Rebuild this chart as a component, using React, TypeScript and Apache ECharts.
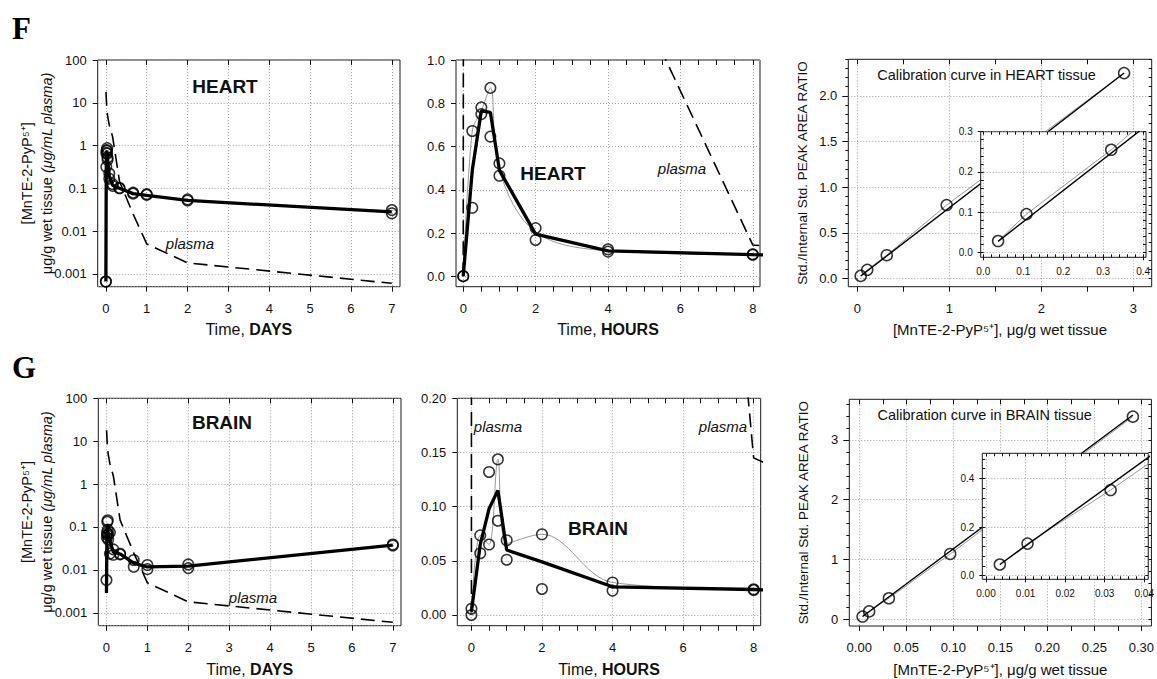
import React, { useEffect, useRef } from 'react';
import * as echarts from 'echarts';

const FONT = '"Liberation Sans", Arial, Helvetica, sans-serif';
const SERIF = '"Liberation Serif", "Times New Roman", serif';
const TXT = '#111';

// ---------------- DATA ----------------
// tissue sampling times (hours)
const earlyHours = [0, 0.25, 0.5, 0.75, 1, 2, 4, 8];
const lateHours = [16, 24, 48, 168];

// HEART (µg/g wet tissue)
const heartEarlyA = [0.00066, 0.672, 0.781, 0.871, 0.522, 0.223, 0.125, 0.102];
const heartEarlyB = [0.00066, 0.317, 0.75, 0.646, 0.465, 0.168, 0.114, 0.1];
const heartEarlyMean = [0.00066, 0.49, 0.765, 0.758, 0.49, 0.195, 0.118, 0.1];
const heartEarlyThin = [0.00066, 0.672, 0.765, 0.871, 0.49, 0.205, 0.118, 0.1];
const heartLateA = [0.079, 0.073, 0.055, 0.031];
const heartLateB = [0.075, 0.07, 0.052, 0.026];
const heartLateMean = [0.075, 0.068, 0.052, 0.028];

// BRAIN (µg/g wet tissue)
const brainEarlyA = [0.0058, 0.0735, 0.132, 0.1437, 0.069, 0.0745, 0.03, 0.0237];
const brainEarlyB = [0, 0.057, 0.065, 0.087, 0.051, 0.024, 0.0225, 0.023];
const brainEarlyMean = [0.0029, 0.065, 0.098, 0.115, 0.06, 0.049, 0.026, 0.0235];
const brainEarlyThin = [0, 0.0735, 0.065, 0.1437, 0.066, 0.0745, 0.03, 0.0237];
const brainLateA = [0.017, 0.013, 0.0134, 0.039];
const brainLateB = [0.0118, 0.0104, 0.011, 0.037];
const brainLateMean = [0.0144, 0.0117, 0.0122, 0.038];

// PLASMA (µg/mL)
const plasmaHours = [0, 0.05, 0.5, 1, 2, 4, 8, 16, 24, 48, 168];
const plasmaConc = [0, 18, 8, 5, 3, 1.57, 0.145, 0.025, 0.005, 0.0018, 0.0006];

// calibration curves
const heartCalConc = [0.037, 0.108, 0.32, 0.971, 2.9];
const heartCalRatio = [0.028, 0.095, 0.255, 0.804, 2.249];
const heartFitConc = [0.037, 2.9];
const heartFitRatio = [0.027, 2.25];
const brainCalConc = [0.0035, 0.0105, 0.0315, 0.0967, 0.291];
const brainCalRatio = [0.046, 0.132, 0.352, 1.093, 3.39];
const brainFitConc = [0.0035, 0.291];
const brainFitRatio = [0.046, 3.418];

// tick labels
const logTickLabels = ['0.001', '0.01', '0.1', '1', '10', '100'];
const daysTicks = [0, 1, 2, 3, 4, 5, 6, 7];
const hoursTicks = [0, 2, 4, 6, 8];
const heartHoursY = [0, 0.2, 0.4, 0.6, 0.8, 1.0];
const brainHoursY = [0, 0.05, 0.1, 0.15, 0.2];
const heartCalXT = [0, 1, 2, 3];
const heartCalYT = [0, 0.5, 1, 1.5, 2];
const heartInsetXT = [0, 0.1, 0.2, 0.3, 0.4];
const heartInsetYT = [0, 0.1, 0.2, 0.3];
const brainCalXT = [0, 0.05, 0.1, 0.15, 0.2, 0.25, 0.3];
const brainCalYT = [0, 1, 2, 3];
const brainInsetXT = [0, 0.01, 0.02, 0.03, 0.04];
const brainInsetYT = [0, 0.2, 0.4];

// ---------------- helpers ----------------
const steps = (a: number, b: number, s: number) => {
  const out: number[] = [];
  const n = Math.round((b - a) / s);
  for (let i = 0; i <= n; i++) out.push(+(a + i * s).toFixed(6));
  return out;
};
const pts = (xs: number[], ys: number[], div = 1) => xs.map((x, i) => [x / div, ys[i]]);
const GRIDLINE = { show: true, lineStyle: { color: '#a0a0a0', width: 1, type: [1, 2] } };
const fixed = (d: number) => (v: number) => v.toFixed(d);
const plain = (v: number) => String(v);
const logFmt = (v: number) => {
  const e = Math.log10(v);
  const r = Math.round(e);
  if (Math.abs(e - r) > 1e-6) return '';
  return logTickLabels[r + 3] ?? '';
};

function labelAxis(g: number, pos: string, min: number, max: number, ticks: number[], fmt: any, o: any = {}) {
  return {
    type: 'value', gridIndex: g, position: pos, min, max, z: o.z ?? 0,
    axisLine: { show: false, onZero: false },
    axisTick: { show: o.showTick ?? true, inside: false, length: o.tickLen ?? 5, customValues: ticks, lineStyle: { color: TXT, width: 1 } },
    axisLabel: { show: true, customValues: ticks, formatter: fmt, margin: o.margin ?? 12, color: TXT, fontFamily: FONT, fontSize: o.fontSize ?? 13 },
    splitLine: GRIDLINE,
    name: o.name, nameLocation: 'middle', nameGap: o.nameGap ?? 30, nameTextStyle: o.nameTextStyle, nameMoveOverlap: false,
  };
}
function tickAxis(g: number, pos: string, min: number, max: number, ticks: number[], inside: boolean, len: number, z = 0) {
  return {
    type: 'value', gridIndex: g, position: pos, min, max, z,
    axisLine: { show: false, onZero: false },
    axisTick: { show: true, inside, length: len, customValues: ticks, lineStyle: { color: TXT, width: 1 } },
    axisLabel: { show: false }, splitLine: { show: false },
  };
}

const thick = (xi: number, yi: number, data: number[][], z = 3) => ({
  type: 'line', xAxisIndex: xi, yAxisIndex: yi, data, symbol: 'none', z, silent: true,
  lineStyle: { color: '#000', width: 3.3 },
});
const thin = (xi: number, yi: number, data: number[][], smooth: any = false, z = 2) => ({
  type: 'line', xAxisIndex: xi, yAxisIndex: yi, data, symbol: 'none', z, smooth, silent: true,
  lineStyle: { color: '#8c8c8c', width: 0.9 },
});
const fitLine = (xi: number, yi: number, data: number[][], z = 3) => ({
  type: 'line', xAxisIndex: xi, yAxisIndex: yi, data, symbol: 'none', z, silent: true,
  lineStyle: { color: '#000', width: 1.4 },
});
const dashed = (xi: number, yi: number, data: number[][]) => ({
  type: 'line', xAxisIndex: xi, yAxisIndex: yi, data, symbol: 'none', z: 2, silent: true,
  lineStyle: { color: '#000', width: 1.6, type: [14, 7] },
});
const circles = (xi: number, yi: number, data: number[][], size = 10.5, z = 4) => ({
  type: 'scatter', xAxisIndex: xi, yAxisIndex: yi, data, symbol: 'circle', symbolSize: size, z, silent: true,
  itemStyle: { color: 'rgba(0,0,0,0)', borderColor: '#000', borderWidth: 1.5 },
});

function buildOption() {
  const grid: any[] = [];
  const xAxis: any[] = [];
  const yAxis: any[] = [];
  const series: any[] = [];
  const addX = (a: any) => { xAxis.push(a); return xAxis.length - 1; };
  const addY = (a: any) => { yAxis.push(a); return yAxis.length - 1; };
  const addGrid = (l: number, t: number, r: number, b: number, z = 0, bg = 'transparent') => {
    grid.push({ left: l, top: t, width: r - l, height: b - t, show: true, borderColor: '#1a1a1a', borderWidth: 1, backgroundColor: bg, z });
    return grid.length - 1;
  };

  const xNameStyle = (size: number) => ({
    rich: {
      n: { fontSize: size, fontFamily: FONT, color: TXT },
      b: { fontSize: size, fontFamily: FONT, color: TXT, fontWeight: 'bold' },
    },
  });
  const leftYName = '{a|[MnTE-2-PyP⁵⁺]}\n{a|μg/g wet tissue }{i|(μg/mL plasma)}';
  const leftYNameStyle = {
    rich: {
      a: { fontSize: 14.5, fontFamily: FONT, color: TXT, lineHeight: 20 },
      i: { fontSize: 14.5, fontFamily: FONT, color: TXT, lineHeight: 20, fontStyle: 'italic' },
    },
  };
  const calName = '[MnTE-2-PyP⁵⁺], μg/g wet tissue';
  const calNameStyle = { fontSize: 15, fontFamily: FONT, color: TXT };
  const ratioName = 'Std./Internal Std. PEAK AREA RATIO';
  const ratioStyle = { fontSize: 13.5, fontFamily: FONT, color: TXT, lineHeight: 18 };

  const tissues = [
    {
      top: 60, bottom: 286.7, gap: 35,
      A: heartEarlyA, B: heartEarlyB, mean: heartEarlyMean, thinL: heartEarlyThin,
      lA: heartLateA, lB: heartLateB, lMean: heartLateMean,
      hx: [-0.2, 8.2], hy: [-0.048, 1.0], hyT: heartHoursY, hyFmt: fixed(1),
      cal: { rect: [848.3, 59.3, 1151.7, 286.7], x: [-0.098, 3.2], y: [-0.09, 2.4], xT: heartCalXT, yT: heartCalYT,
        xFmt: plain, yFmt: fixed(1), xMinor: steps(0, 3, 0.5), yMinor: steps(0, 2.4, 0.1),
        conc: heartCalConc, ratio: heartCalRatio, fc: heartFitConc, fr: heartFitRatio,
        inset: { rect: [980.7, 131.7, 1146, 257.3], x: [-0.0065, 0.407], y: [-0.0125, 0.3], xT: heartInsetXT, yT: heartInsetYT,
          xFmt: fixed(1), yFmt: fixed(1), xMinor: steps(0, 0.4, 0.02), yMinor: steps(0, 0.3, 0.02) } },
    },
    {
      top: 398.3, bottom: 625.7, gap: 36,
      A: brainEarlyA, B: brainEarlyB, mean: brainEarlyMean, thinL: brainEarlyThin,
      lA: brainLateA, lB: brainLateB, lMean: brainLateMean,
      hx: [-0.4, 8.2], hy: [-0.0099, 0.2], hyT: brainHoursY, hyFmt: fixed(2),
      cal: { rect: [849.3, 399.3, 1151.7, 626], x: [-0.0106, 0.3107], y: [-0.112, 3.68], xT: brainCalXT, yT: brainCalYT,
        xFmt: fixed(2), yFmt: plain, xMinor: steps(0, 0.3, 0.025), yMinor: steps(0, 3.6, 0.2),
        conc: brainCalConc, ratio: brainCalRatio, fc: brainFitConc, fr: brainFitRatio,
        inset: { rect: [982.3, 453.3, 1148.3, 579.3], x: [-0.00093, 0.041], y: [-0.0148, 0.503], xT: brainInsetXT, yT: brainInsetYT,
          xFmt: fixed(2), yFmt: fixed(1), xMinor: steps(0, 0.04, 0.002), yMinor: steps(0, 0.5, 0.04) } },
    },
  ];

  tissues.forEach((t) => {
    const allHours = [...earlyHours, ...lateHours];
    const allMean = [...t.mean, ...t.lMean];

    // ---- DAYS (log) panel ----
    const g1 = addGrid(t.top === 60 ? 97.7 : 98.3, t.top, t.top === 60 ? 400 : 401, t.bottom);
    const x1 = addX(labelAxis(g1, 'bottom', -0.2, 7.2, daysTicks, plain, {
      margin: 15, name: '{n|Time, }{b|DAYS}', nameGap: t.gap, nameTextStyle: xNameStyle(16),
    }));
    addX(tickAxis(g1, 'top', -0.2, 7.2, daysTicks, true, 5));
    const y1 = addY({
      type: 'log', logBase: 10, gridIndex: g1, min: 0.0005, max: 100, splitNumber: 5, position: 'left',
      axisLine: { show: false, onZero: false },
      axisTick: { show: true, inside: false, length: 5, lineStyle: { color: TXT } },
      axisLabel: { formatter: logFmt, margin: 11, color: TXT, fontFamily: FONT, fontSize: 13, showMinLabel: false },
      splitLine: GRIDLINE,
      name: leftYName, nameLocation: 'middle', nameGap: 41, nameTextStyle: leftYNameStyle, nameMoveOverlap: false,
    });
    series.push(dashed(x1, y1, pts(plasmaHours, plasmaConc, 24).filter((p) => p[1] > 0)));
    series.push(thick(x1, y1, pts(allHours, allMean, 24).filter((p) => p[1] > 0)));
    series.push(circles(x1, y1, [
      ...pts(earlyHours, t.A, 24), ...pts(earlyHours, t.B, 24),
      ...pts(lateHours, t.lA, 24), ...pts(lateHours, t.lB, 24),
    ].filter((p) => p[1] > 0)));

    // ---- HOURS (linear) panel ----
    const g2 = addGrid(t.top === 60 ? 456 : 457.3, t.top, t.top === 60 ? 760 : 760.7, t.bottom);
    const x2 = addX(labelAxis(g2, 'bottom', t.hx[0], t.hx[1], hoursTicks, plain, {
      showTick: false, margin: 15, name: '{n|Time, }{b|HOURS}', nameGap: t.gap, nameTextStyle: xNameStyle(16),
    }));
    addX(tickAxis(g2, 'bottom', t.hx[0], t.hx[1], steps(0, 8, 0.5), false, 5));
    addX(tickAxis(g2, 'top', t.hx[0], t.hx[1], steps(0, 8, 0.5), true, 5));
    const y2 = addY(labelAxis(g2, 'left', t.hy[0], t.hy[1], t.hyT, t.hyFmt, { margin: 11 }));
    series.push(dashed(x2, y2, pts(plasmaHours, plasmaConc)));
    series.push(thin(x2, y2, pts(earlyHours, t.thinL), 0.35));
    series.push(thick(x2, y2, pts(allHours, allMean)));
    series.push(circles(x2, y2, [...pts(earlyHours, t.A), ...pts(earlyHours, t.B)]));

    // ---- CALIBRATION panel ----
    const c = t.cal;
    const g3 = addGrid(c.rect[0], c.rect[1], c.rect[2], c.rect[3]);
    const x3 = addX(labelAxis(g3, 'bottom', c.x[0], c.x[1], c.xT, c.xFmt, {
      showTick: false, margin: 15, name: calName, nameGap: t.gap, nameTextStyle: calNameStyle,
    }));
    addX(tickAxis(g3, 'bottom', c.x[0], c.x[1], c.xMinor, false, 5));
    addX(tickAxis(g3, 'top', c.x[0], c.x[1], c.xMinor, true, 5));
    const y3 = addY(labelAxis(g3, 'left', c.y[0], c.y[1], c.yT, c.yFmt, {
      margin: 11, tickLen: 6, name: ratioName, nameGap: 37, nameTextStyle: ratioStyle,
    }));
    addY(tickAxis(g3, 'left', c.y[0], c.y[1], c.yMinor, false, 3));
    addY(tickAxis(g3, 'right', c.y[0], c.y[1], c.yMinor, true, 3));
    series.push(thin(x3, y3, pts(c.conc, c.ratio)));
    series.push(fitLine(x3, y3, pts(c.fc, c.fr)));
    series.push(circles(x3, y3, pts(c.conc, c.ratio), 11));

    // ---- INSET ----
    const ins = c.inset;
    const g4 = addGrid(ins.rect[0], ins.rect[1], ins.rect[2], ins.rect[3], 5, '#fff');
    const x4 = addX(labelAxis(g4, 'bottom', ins.x[0], ins.x[1], ins.xT, ins.xFmt, {
      z: 6, tickLen: 3, margin: 9, fontSize: 10,
    }));
    addX(tickAxis(g4, 'bottom', ins.x[0], ins.x[1], ins.xMinor, true, 3, 6));
    addX(tickAxis(g4, 'top', ins.x[0], ins.x[1], ins.xMinor, true, 3, 6));
    const y4 = addY(labelAxis(g4, 'left', ins.y[0], ins.y[1], ins.yT, ins.yFmt, {
      z: 6, tickLen: 3, margin: 8, fontSize: 10,
    }));
    addY(tickAxis(g4, 'left', ins.y[0], ins.y[1], ins.yMinor, true, 3, 6));
    addY(tickAxis(g4, 'right', ins.y[0], ins.y[1], ins.yMinor, true, 3, 6));
    series.push(thin(x4, y4, pts(c.conc, c.ratio), false, 7));
    series.push(fitLine(x4, y4, pts(c.fc, c.fr), 8));
    series.push(circles(x4, y4, pts(c.conc.slice(0, 3), c.ratio.slice(0, 3)), 11, 9));
  });

  const txt = (x: number, y: number, text: string, s: any = {}) => ({
    type: 'text', x, y, z: 10, silent: true,
    style: {
      text, fill: TXT, fontFamily: FONT, fontSize: 15,
      textAlign: 'center', textVerticalAlign: 'middle', ...s,
    },
  });
  const bold = { fontWeight: 'bold', fontSize: 19 };
  const ital = { fontStyle: 'italic', fontSize: 15 };

  const graphic = [
    txt(12, 28, 'F', { fontFamily: SERIF, fontWeight: 'bold', fontSize: 31, textAlign: 'left', fill: '#000' }),
    txt(12, 367, 'G', { fontFamily: SERIF, fontWeight: 'bold', fontSize: 31, textAlign: 'left', fill: '#000' }),
    txt(225, 86, 'HEART', bold),
    txt(553, 173, 'HEART', bold),
    txt(222, 422, 'BRAIN', bold),
    txt(598, 528, 'BRAIN', bold),
    txt(190, 243, 'plasma', ital),
    txt(682, 168, 'plasma', ital),
    txt(253, 597, 'plasma', ital),
    txt(498, 426, 'plasma', ital),
    txt(723, 426, 'plasma', ital),
    txt(986.5, 75, 'Calibration curve in HEART tissue', { fontSize: 14.5 }),
    txt(984.7, 415, 'Calibration curve in BRAIN tissue', { fontSize: 14.5 }),
  ];

  return {
    animation: false,
    backgroundColor: '#fff',
    textStyle: { fontFamily: FONT },
    grid, xAxis, yAxis, series, graphic,
  };
}

export default function App() {
  const ref = useRef<HTMLDivElement>(null);
  useEffect(() => {
    if (!ref.current) return;
    const chart = echarts.init(ref.current, undefined, { renderer: 'svg' });
    chart.setOption(buildOption() as any);
    return () => chart.dispose();
  }, []);
  return (
    <div
      ref={ref}
      style={{ position: 'fixed', left: 0, top: 0, width: 1157, height: 679, background: '#fff' }}
    />
  );
}
